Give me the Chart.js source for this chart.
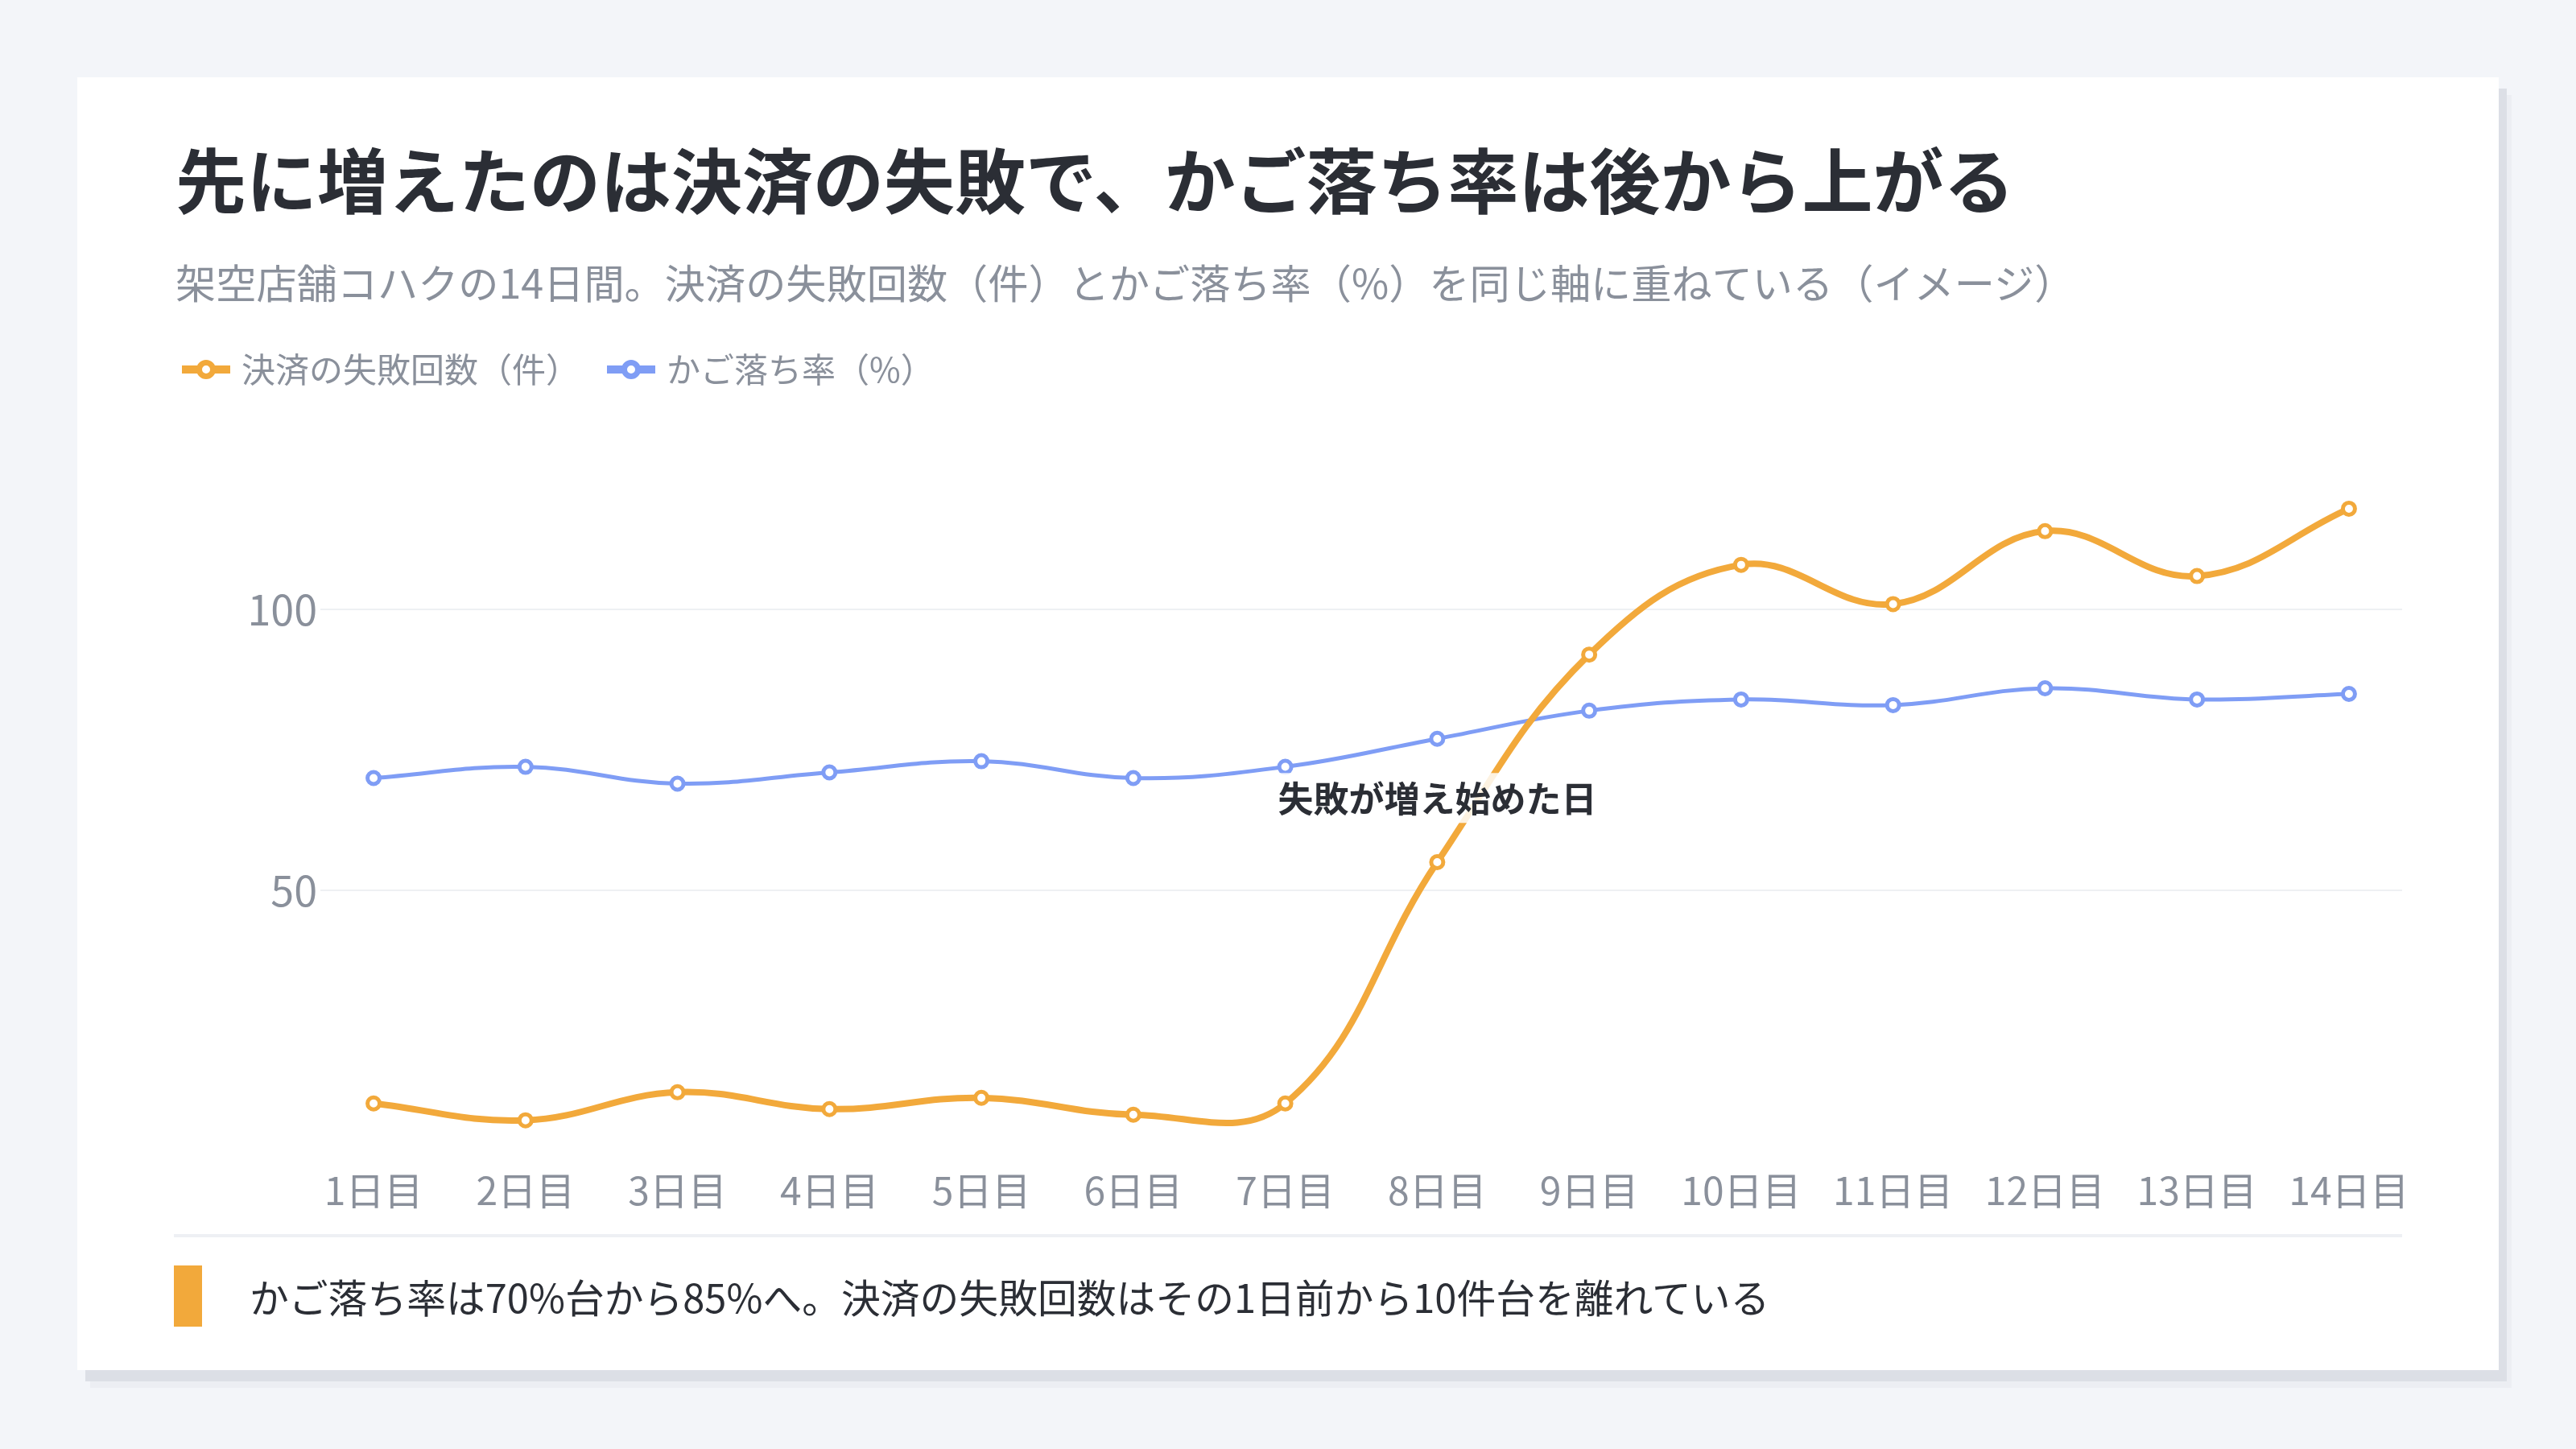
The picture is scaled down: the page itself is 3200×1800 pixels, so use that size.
<!DOCTYPE html>
<html lang="ja">
<head>
<meta charset="utf-8">
<title>決済の失敗とかご落ち率</title>
<script src="https://cdn.jsdelivr.net/npm/chart.js@4.4.1/dist/chart.umd.min.js"></script>
<style>
  html, body { margin: 0; padding: 0; }
  body {
    width: 3200px; height: 1800px; position: relative; overflow: hidden;
    background: #f3f5f9;
    font-family: "Noto Sans CJK JP", "Noto Sans", sans-serif;
  }
  .card {
    position: absolute; left: 96px; top: 96px; width: 3008px; height: 1606px;
    background: #fff;
    box-shadow: 10px 14px 0 #dcdfe6, 16px 22px 0 #eceef3;
  }
  .title {
    position: absolute; left: 218px; top: 176px; margin: 0;
    font-size: 88px; line-height: 1; font-weight: 700; color: #2b2e35;
    white-space: nowrap;
  }
  .subtitle {
    position: absolute; left: 218px; top: 324px; margin: 0;
    font-size: 50.2px; line-height: 1; color: #8a909b; white-space: nowrap;
  }
  .chart-box {
    position: absolute; left: 192px; top: 397px; width: 2812px; height: 1107px;
  }
  .rule {
    position: absolute; left: 216px; top: 1533px; width: 2768px; height: 4px;
    background: #eef0f4;
  }
  .note {
    position: absolute; left: 216px; top: 1572px; height: 76px;
    display: flex; align-items: center;
  }
  .note .bar { width: 35px; height: 76px; background: #f2a93b; }
  .note p {
    margin: 0 0 0 59px; font-size: 48.8px; line-height: 1; color: #2b2e35; white-space: nowrap;
  }
</style>
</head>
<body>
<div class="card"></div>
<h1 class="title">先に増えたのは決済の失敗で、かご落ち率は後から上がる</h1>
<p class="subtitle">架空店舗コハクの14日間。決済の失敗回数（件）とかご落ち率（%）を同じ軸に重ねている（イメージ）</p>
<div class="chart-box"><canvas id="trendChart"></canvas></div>
<div class="rule"></div>
<div class="note"><div class="bar"></div><p>かご落ち率は70%台から85%へ。決済の失敗回数はその1日前から10件台を離れている</p></div>

<script>
// Data
const days = ['1日目', '2日目', '3日目', '4日目', '5日目', '6日目', '7日目',
              '8日目', '9日目', '10日目', '11日目', '12日目', '13日目', '14日目'];
const failures = [12, 9, 14, 11, 13, 10, 12, 55, 92, 108, 101, 114, 106, 118];
const abandonRate = [70, 72, 69, 71, 73, 70, 72, 77, 82, 84, 83, 86, 84, 85];
const yTicks = [50, 100];
const noteDay = 8;
const noteValue = 66.3;
const noteText = '失敗が増え始めた日';

const ORANGE = '#f2a93b';
const BLUE = '#7f9df5';
const GRAY = '#8a909b';
const FONT = '"Noto Sans CJK JP", "Noto Sans", sans-serif';

// Small line + ring icon used as the legend marker
function legendMarker(color) {
  const c = document.createElement('canvas');
  c.width = 60;
  c.height = 26;
  const g = c.getContext('2d');
  g.strokeStyle = color;
  g.lineWidth = 10;
  g.beginPath();
  g.moveTo(0, 13);
  g.lineTo(60, 13);
  g.stroke();
  g.beginPath();
  g.arc(30, 13, 8.5, 0, Math.PI * 2);
  g.fillStyle = '#fff';
  g.fill();
  g.lineWidth = 7;
  g.stroke();
  return c;
}
const markers = [legendMarker(ORANGE), legendMarker(BLUE)];

// Extra room under the legend
const legendSpacer = {
  id: 'legendSpacer',
  beforeInit(chart) {
    const fit = chart.legend.fit;
    chart.legend.fit = function () {
      fit.bind(chart.legend)();
      this.height = 221;
    };
  }
};

// Text note with a soft white box behind it
const noteLabel = {
  id: 'noteLabel',
  afterDatasetsDraw(chart) {
    const { ctx, scales: { x, y } } = chart;
    const px = x.getPixelForValue(noteDay);
    const py = y.getPixelForValue(noteValue);
    ctx.save();
    ctx.font = '700 44px ' + FONT;
    const w = ctx.measureText(noteText).width;
    ctx.fillStyle = 'rgba(255, 255, 255, 0.85)';
    ctx.fillRect(px - w / 2 - 14, py - 32, w + 28, 62);
    ctx.fillStyle = '#2b2e35';
    ctx.textAlign = 'center';
    ctx.textBaseline = 'middle';
    ctx.fillText(noteText, px, py);
    ctx.restore();
  }
};

document.addEventListener('DOMContentLoaded', function () {
  const ctx = document.getElementById('trendChart');

  new Chart(ctx, {
    type: 'line',
    data: {
      datasets: [{
        label: '決済の失敗回数（件）',
        data: failures.map((v, i) => ({ x: i + 1, y: v })),
        borderColor: ORANGE,
        backgroundColor: ORANGE,
        borderWidth: 8,
        tension: 0.4,
        pointRadius: 7.5,
        pointBorderWidth: 5,
        pointBackgroundColor: '#fff',
        pointBorderColor: ORANGE
      }, {
        label: 'かご落ち率（%）',
        data: abandonRate.map((v, i) => ({ x: i + 1, y: v })),
        borderColor: BLUE,
        backgroundColor: BLUE,
        borderWidth: 5,
        tension: 0.4,
        pointRadius: 7.5,
        pointBorderWidth: 5,
        pointBackgroundColor: '#fff',
        pointBorderColor: BLUE
      }]
    },
    options: {
      responsive: true,
      maintainAspectRatio: false,
      animation: false,
      layout: { padding: { right: 20 } },
      plugins: {
        legend: {
          display: true,
          position: 'top',
          align: 'start',
          labels: {
            usePointStyle: true,
            pointStyleWidth: 46,
            padding: 41,
            color: GRAY,
            font: { family: FONT, size: 42 },
            generateLabels: (chart) => chart.data.datasets.map((ds, i) => ({
              text: ds.label,
              pointStyle: markers[i],
              fillStyle: ds.borderColor,
              strokeStyle: ds.borderColor,
              fontColor: GRAY,
              lineWidth: 0,
              hidden: false,
              datasetIndex: i
            }))
          }
        },
        tooltip: { enabled: false }
      },
      scales: {
        x: {
          type: 'linear',
          min: 0.65,
          max: 14.35,
          grid: { display: false, drawTicks: false },
          border: { display: false },
          ticks: {
            stepSize: 1,
            includeBounds: false,
            autoSkip: false,
            maxRotation: 0,
            padding: -4,
            color: GRAY,
            font: { family: FONT, size: 48 },
            callback: (value) => days[value - 1] || ''
          }
        },
        y: {
          min: 0,
          max: 120,
          afterBuildTicks: (scale) => {
            scale.ticks = yTicks.map((v) => ({ value: v }));
          },
          afterFit: (scale) => {
            scale.width = 206;
          },
          grid: { color: '#eef0f3', lineWidth: 2, drawTicks: false },
          border: { display: false },
          ticks: {
            padding: 4,
            color: GRAY,
            font: { family: FONT, size: 52 }
          }
        }
      }
    },
    plugins: [legendSpacer, noteLabel]
  });
});
</script>
</body>
</html>
